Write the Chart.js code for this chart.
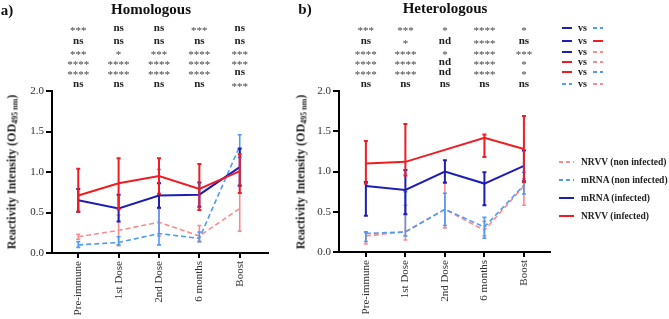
<!DOCTYPE html>
<html>
<head>
<meta charset="utf-8">
<script src="https://cdn.jsdelivr.net/npm/chart.js@4.4.1/dist/chart.umd.min.js"></script>
<style>
  html, body { margin: 0; padding: 0; background: #fff; }
  #wrap { position: relative; width: 669px; height: 319px; overflow: hidden; font-family: "Liberation Serif", "Times New Roman", serif; }
  canvas { position: absolute; left: 0; top: 0; }
  .t { position: absolute; transform: translate(-50%, -50%); white-space: nowrap; font-weight: bold; color: #111; }
  .ytitle { position: absolute; transform: translate(-50%, -50%) rotate(-90deg); white-space: nowrap; font-weight: bold; font-size: 12px; color: #222; }
  .ytitle sub { font-size: 8px; vertical-align: -2px; }
  .row { position: absolute; display: flex; align-items: center; font-weight: bold; color: #222; white-space: nowrap; }
  .row svg { display: block; }
</style>
</head>
<body>
<div id="wrap">
  <canvas id="homo" width="669" height="319"></canvas>
  <canvas id="hetero" width="669" height="319"></canvas>
  <div class="t" style="left:7px; top:10px; font-size:15px;">a)</div>
  <div class="t" style="left:151px; top:9px; font-size:15px;">Homologous</div>
  <div class="t" style="left:305px; top:9px; font-size:15px;">b)</div>
  <div class="t" style="left:445px; top:8px; font-size:15px;">Heterologous</div>
  <div class="ytitle" style="left:12px; top:172px;">Reactivity Intensity (OD<sub>495 nm</sub>)</div>
  <div class="ytitle" style="left:301px; top:172px;">Reactivity Intensity (OD<sub>495 nm</sub>)</div>
</div>
<script>
// x categories and y ticks
const categories = ['Pre-immune', '1st Dose', '2nd Dose', '6 months', 'Boost'];
const yTicks = [0, 0.5, 1.0, 1.5, 2.0];

// a) Homologous: means, upper and lower error bar ends
const homNrvvInf = [0.71, 0.86, 0.95, 0.79, 1.01];
const homNrvvInfHi = [1.04, 1.17, 1.17, 1.10, 1.22];
const homNrvvInfLo = [0.51, 0.54, 0.73, 0.53, 0.74];
const homMrnaInf = [0.65, 0.55, 0.71, 0.72, 1.06];
const homMrnaInfHi = [0.79, 0.72, 0.86, 0.87, 1.29];
const homMrnaInfLo = [0.51, 0.39, 0.56, 0.57, 0.83];
const homMrnaNon = [0.10, 0.13, 0.24, 0.18, 1.32];
const homMrnaNonHi = [0.14, 0.20, 1.03, 0.26, 1.46];
const homMrnaNonLo = [0.07, 0.10, 0.10, 0.14, 1.18];
const homNrvvNon = [0.20, 0.28, 0.38, 0.21, 0.55];
const homNrvvNonHi = [0.23, 0.47, 0.55, 0.34, 0.84];
const homNrvvNonLo = [0.17, 0.09, 0.21, 0.14, 0.27];

// b) Heterologous (NRVV infected has no value at 2nd Dose)
const hetNrvvInf = [1.10, 1.12, null, 1.42, 1.28];
const hetNrvvInfHi = [1.38, 1.59, null, 1.46, 1.69];
const hetNrvvInfLo = [0.85, 0.95, null, 1.18, 0.87];
const hetMrnaInf = [0.82, 0.77, 1.00, 0.85, 1.07];
const hetMrnaInfHi = [0.87, 1.02, 1.14, 0.99, 1.26];
const hetMrnaInfLo = [0.45, 0.47, 0.86, 0.58, 0.88];
const hetMrnaNon = [0.23, 0.25, 0.53, 0.31, 0.83];
const hetMrnaNonHi = [0.25, 0.75, 0.73, 0.43, 0.99];
const hetMrnaNonLo = [0.13, 0.20, 0.33, 0.17, 0.72];
const hetNrvvNon = [0.20, 0.25, 0.53, 0.27, 0.82];
const hetNrvvNonHi = [0.24, 0.58, 0.87, 0.38, 0.91];
const hetNrvvNonLo = [0.10, 0.15, 0.30, 0.20, 0.58];

// significance rows (one entry per category)
const homSig = [
  ['***', 'ns', 'ns', '***', 'ns'],
  ['ns', 'ns', 'ns', 'ns', 'ns'],
  ['***', '*', '***', '****', '***'],
  ['****', '****', '****', '****', '***'],
  ['****', '****', '****', '****', 'ns'],
  ['ns', 'ns', 'ns', 'ns', '***'],
];
const hetSig = [
  ['***', '***', '*', '****', '*'],
  ['ns', '*', 'nd', '****', 'ns'],
  ['****', '****', '*', '****', '***'],
  ['****', '****', 'nd', '****', '*'],
  ['****', '****', 'nd', '****', '*'],
  ['ns', 'ns', 'ns', 'ns', 'ns'],
];
const sigRowsY = [28, 41, 52, 62, 72, 84];

// which pair each significance row compares
const keyPairs = [
  ['mrnaInf', 'mrnaNon'],
  ['mrnaInf', 'nrvvInf'],
  ['mrnaInf', 'nrvvNon'],
  ['nrvvInf', 'nrvvNon'],
  ['nrvvInf', 'mrnaNon'],
  ['mrnaNon', 'nrvvNon'],
];

const styles = {
  nrvvInf: { label: 'NRVV (infected)', color: '#f01c22', dash: [], width: 2 },
  mrnaInf: { label: 'mRNA (infected)', color: '#1e1eb4', dash: [], width: 2 },
  mrnaNon: { label: 'mRNA (non infected)', color: '#4f9af5', dash: [5, 3], width: 1.6 },
  nrvvNon: { label: 'NRVV (non infected)', color: '#f98b8b', dash: [5, 3], width: 1.6 },
};
const legendOrder = ['nrvvNon', 'mrnaNon', 'mrnaInf', 'nrvvInf'];

Chart.defaults.font.family = '"Liberation Serif", "Times New Roman", serif';

const errorBars = {
  id: 'errorBars',
  afterDatasetDraw(chart, args) {
    const ds = chart.data.datasets[args.index];
    const y = chart.scales.y;
    const ctx = chart.ctx;
    ctx.save();
    ctx.strokeStyle = ds.borderColor;
    ctx.lineWidth = ds.borderWidth;
    ctx.beginPath();
    args.meta.data.forEach((pt, i) => {
      if (ds.errHi[i] == null) return;
      const top = y.getPixelForValue(ds.errHi[i]);
      const bot = y.getPixelForValue(Math.max(ds.errLo[i], 0));
      ctx.moveTo(pt.x, top);
      ctx.lineTo(pt.x, bot);
      ctx.moveTo(pt.x - 2, top);
      ctx.lineTo(pt.x + 2, top);
      if (ds.errLo[i] > 0) {
        ctx.moveTo(pt.x - 2, bot);
        ctx.lineTo(pt.x + 2, bot);
      }
    });
    ctx.stroke();
    ctx.restore();
  },
};

function sigPlugin(rows) {
  return {
    id: 'sigText',
    afterDraw(chart) {
      const ctx = chart.ctx;
      const x = chart.scales.x;
      ctx.save();
      ctx.textAlign = 'center';
      ctx.textBaseline = 'middle';
      rows.forEach((row, r) => {
        row.forEach((s, i) => {
          const star = s[0] === '*';
          ctx.font = star ? '11px "Liberation Serif"' : 'bold 11px "Liberation Serif"';
          ctx.fillStyle = star ? '#444' : '#222';
          ctx.fillText(s, x.getPixelForValue(i), sigRowsY[r] + (star ? 3 : 0));
        });
      });
      ctx.restore();
    },
  };
}

function dataset(key, values, hi, lo) {
  const st = styles[key];
  return {
    label: st.label,
    data: values.map((v, i) => ({ x: i, y: v })),
    errHi: hi,
    errLo: lo,
    borderColor: st.color,
    backgroundColor: st.color,
    borderWidth: st.width,
    borderDash: st.dash,
    pointRadius: 0,
    tension: 0,
    spanGaps: true,
  };
}

function makeChart(id, datasets, sig, area) {
  return new Chart(document.getElementById(id), {
    type: 'line',
    data: { datasets },
    plugins: [errorBars, sigPlugin(sig)],
    options: {
      responsive: false,
      animation: false,
      layout: {
        padding: { left: area.left - area.yWidth, right: 669 - area.right, top: area.top, bottom: 319 - area.bottom - 62 },
      },
      plugins: { legend: { display: false }, tooltip: { enabled: false } },
      scales: {
        x: {
          type: 'linear',
          min: area.xMin,
          max: area.xMax,
          afterBuildTicks: (s) => { s.ticks = categories.map((c, i) => ({ value: i })); },
          afterFit: (s) => { s.height = 62; },
          grid: { drawOnChartArea: false, tickLength: 5, color: '#000', lineWidth: 2 },
          border: { color: '#000', width: 2 },
          ticks: {
            autoSkip: false,
            minRotation: 90,
            maxRotation: 90,
            padding: 3,
            color: '#333',
            font: { size: 11 },
            callback: (v) => categories[v],
          },
        },
        y: {
          min: 0,
          max: 2,
          afterBuildTicks: (s) => { s.ticks = yTicks.map((v) => ({ value: v })); },
          afterFit: (s) => { s.width = area.yWidth; },
          grid: { drawOnChartArea: false, tickLength: 6, color: '#000', lineWidth: 2 },
          border: { color: '#000', width: 2 },
          ticks: {
            padding: 2,
            color: '#333',
            font: { size: 11 },
            callback: (v) => v.toFixed(1),
          },
        },
      },
    },
  });
}

makeChart('homo', [
  dataset('nrvvInf', homNrvvInf, homNrvvInfHi, homNrvvInfLo),
  dataset('mrnaInf', homMrnaInf, homMrnaInfHi, homMrnaInfLo),
  dataset('mrnaNon', homMrnaNon, homMrnaNonHi, homMrnaNonLo),
  dataset('nrvvNon', homNrvvNon, homNrvvNonHi, homNrvvNonLo),
], homSig, { left: 52, right: 268, top: 91, bottom: 253, yWidth: 52, xMin: -0.65, xMax: 4.7 });

makeChart('hetero', [
  dataset('nrvvInf', hetNrvvInf, hetNrvvInfHi, hetNrvvInfLo),
  dataset('mrnaInf', hetMrnaInf, hetMrnaInfHi, hetMrnaInfLo),
  dataset('mrnaNon', hetMrnaNon, hetMrnaNonHi, hetMrnaNonLo),
  dataset('nrvvNon', hetNrvvNon, hetNrvvNonHi, hetNrvvNonLo),
], hetSig, { left: 339, right: 550, top: 91, bottom: 252, yWidth: 40, xMin: -0.68, xMax: 4.66 });

// line sample used by the legend and the comparison key
function sample(key, w) {
  const st = styles[key];
  const dash = st.dash.length ? ' stroke-dasharray="4,3"' : '';
  return '<svg width="' + w + '" height="4"><line x1="0" y1="2" x2="' + w + '" y2="2" stroke="' +
    st.color + '" stroke-width="2"' + dash + '/></svg>';
}

const wrap = document.getElementById('wrap');
legendOrder.forEach((key, i) => {
  const el = document.createElement('div');
  el.className = 'row';
  el.style.left = '559px';
  el.style.top = (164 + i * 18 - 7) + 'px';
  el.style.fontSize = '9.5px';
  el.innerHTML = sample(key, 15) + '<span style="margin-left:7px">' + styles[key].label + '</span>';
  wrap.appendChild(el);
});
keyPairs.forEach((pair, i) => {
  const el = document.createElement('div');
  el.className = 'row';
  el.style.left = '562px';
  el.style.top = (sigRowsY[i] - 6) + 'px';
  el.style.fontSize = '10px';
  el.innerHTML = sample(pair[0], 10) + '<span style="margin:0 6px">vs</span>' + sample(pair[1], 10);
  wrap.appendChild(el);
});
</script>
</body>
</html>
